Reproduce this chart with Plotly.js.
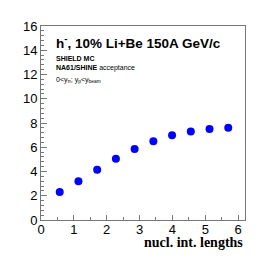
<!DOCTYPE html>
<html><head><meta charset="utf-8">
<script src="https://cdn.plot.ly/plotly-3.0.1.min.js"></script>
<style>html,body{margin:0;padding:0;background:#fff;}</style>
</head><body>
<div id="chart" style="width:273px;height:260px;"></div>
<script>
const lengths = [0.57, 1.14, 1.71, 2.28, 2.85, 3.42, 3.99, 4.56, 5.13, 5.70];
const multiplicity = [2.3, 3.2, 4.15, 5.05, 5.85, 6.5, 7.0, 7.3, 7.5, 7.6];
const xTickVals = [0, 1, 2, 3, 4, 5, 6];
const yTickVals = [0, 2, 4, 6, 8, 10, 12, 14, 16];

const trace = {
  x: lengths, y: multiplicity, type: 'scatter', mode: 'markers',
  marker: {color: '#0000ff', size: 8, symbol: 'circle'},
  hoverinfo: 'none'
};
const axisCommon = {
  showline: true, mirror: true, linecolor: '#777', linewidth: 1,
  showgrid: false, zeroline: false, ticks: 'inside', tickcolor: '#777',
  tickfont: {family: 'Liberation Sans', size: 13, color: '#000'}
};
const layout = {
  width: 273, height: 260,
  margin: {l: 41, r: 28, t: 26, b: 40},
  paper_bgcolor: '#fff', plot_bgcolor: '#fff', showlegend: false,
  xaxis: Object.assign({}, axisCommon, {
    range: [0, 6.21], tickmode: 'array', tickvals: xTickVals, ticklen: 5,
    ticklabelstandoff: -3,
    minor: {dtick: 0.5, ticklen: 3, ticks: 'inside', tickcolor: '#777'}
  }),
  yaxis: Object.assign({}, axisCommon, {
    range: [0, 16], tickmode: 'array', tickvals: yTickVals, ticklen: 6,
    minor: {dtick: 0.4, ticklen: 3, ticks: 'inside', tickcolor: '#777'}
  }),
  annotations: [
    {text: '<b>h<sup>-</sup>, 10% Li+Be 150A GeV/c</b>', xref: 'paper', yref: 'paper',
     x: 0.0636, y: 0.9175, xanchor: 'left', yanchor: 'middle', showarrow: false,
     font: {family: 'Liberation Sans', size: 13.5, color: '#000'}},
    {text: '<b>SHIELD MC</b>', xref: 'paper', yref: 'paper',
     x: 0.0636, y: 0.834, xanchor: 'left', yanchor: 'middle', showarrow: false,
     font: {family: 'Liberation Sans', size: 7, color: '#000'}},
    {text: '<b>NA61/SHINE</b> acceptance', xref: 'paper', yref: 'paper',
     x: 0.0636, y: 0.785, xanchor: 'left', yanchor: 'middle', showarrow: false,
     font: {family: 'Liberation Sans', size: 7, color: '#000'}},
    {text: '0&lt;y<sub>π</sub>; y<sub>p</sub>&lt;y<sub>beam</sub>', xref: 'paper', yref: 'paper',
     x: 0.0636, y: 0.72, xanchor: 'left', yanchor: 'middle', showarrow: false,
     font: {family: 'Liberation Sans', size: 7, color: '#000'}},
    {text: '<b>nucl. int. lengths</b>', xref: 'paper', yref: 'paper',
     x: 1.0, y: -0.116, xanchor: 'right', yanchor: 'middle', showarrow: false,
     font: {family: 'Liberation Serif', size: 14, color: '#000'}}
  ]
};
Plotly.newPlot('chart', [trace], layout, {displayModeBar: false, staticPlot: true});
</script>
</body></html>
